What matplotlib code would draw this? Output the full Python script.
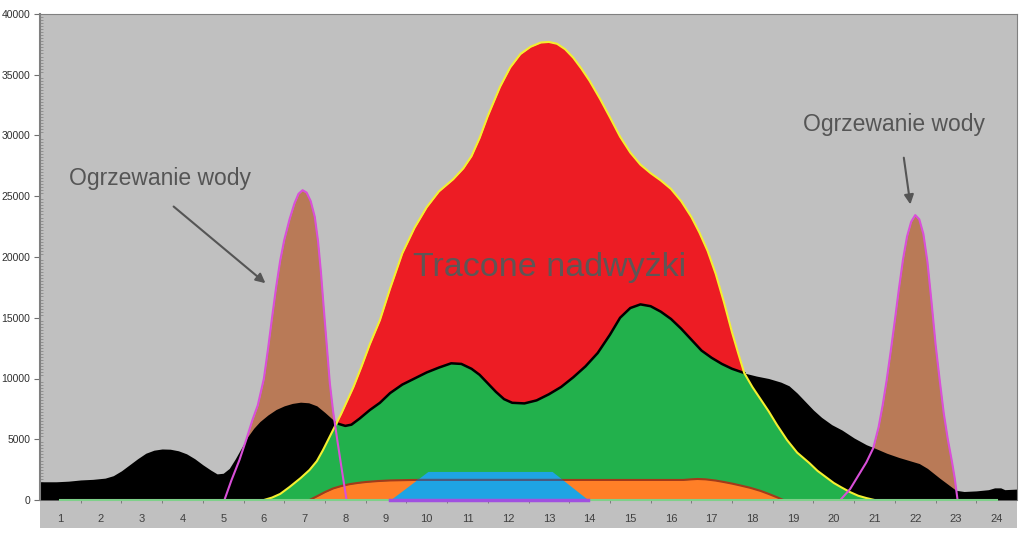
import numpy as np
import matplotlib.pyplot as plt
from matplotlib.patches import Rectangle

plt.rcParams['font.family'] = ['Liberation Sans', 'DejaVu Sans']

# Hours on the category axis
hours = list(range(1, 25))

# Consumption (black area, green top edge)
cons_x = [0.5, 0.9, 1.2, 1.5, 1.8, 2.1, 2.3, 2.5, 2.7, 2.9, 3.1, 3.3, 3.5, 3.7, 3.9, 4.1,
          4.3, 4.5, 4.7, 4.85, 5.0, 5.15, 5.3, 5.45, 5.6, 5.75, 5.9, 6.1, 6.3, 6.5, 6.7,
          6.9, 7.1, 7.3, 7.5, 7.7, 7.85, 8.0, 8.15, 8.35, 8.6, 8.85, 9.1, 9.4, 9.7, 10.0,
          10.3, 10.6, 10.85, 11.1, 11.3, 11.5, 11.7, 11.9, 12.1, 12.4, 12.7, 13.0, 13.3,
          13.6, 13.9, 14.2, 14.5, 14.75, 15.0, 15.25, 15.5, 15.75, 16.0, 16.25, 16.5,
          16.75, 17.0, 17.25, 17.5, 17.8, 18.1, 18.4, 18.7, 18.9, 19.1, 19.3, 19.5, 19.7,
          19.95, 20.2, 20.5, 20.8, 21.0, 21.3, 21.6, 21.9, 22.1, 22.3, 22.45, 22.6, 22.8,
          23.0, 23.2, 23.5, 23.8, 23.95, 24.1, 24.2, 24.5]
cons_y = [1500, 1500, 1550, 1650, 1700, 1800, 2000, 2400, 2900, 3400, 3850, 4100, 4200,
          4180, 4050, 3800, 3400, 2900, 2450, 2150, 2200, 2600, 3400, 4300, 5200, 5900,
          6450, 7000, 7450, 7750, 7950, 8050, 8000, 7750, 7200, 6600, 6250, 6100, 6200,
          6700, 7400, 8000, 8800, 9500, 10000, 10500, 10900, 11250, 11200, 10800, 10300,
          9600, 8900, 8300, 8000, 7950, 8200, 8700, 9300, 10100, 11000, 12100, 13600,
          15000, 15800, 16100, 15950, 15500, 14900, 14100, 13200, 12300, 11700, 11200,
          10800, 10450, 10200, 10000, 9700, 9400, 8800, 8100, 7400, 6800, 6200, 5760, 5100,
          4550, 4280, 3850, 3500, 3200, 3000, 2600, 2200, 1800, 1300, 800, 700, 750, 850,
          1000, 1000, 850, 900]

# Production (yellow line, red area)
prod_x = [6.0, 6.2, 6.4, 6.63, 6.9, 7.12, 7.3, 7.45, 7.6, 7.75, 7.9, 8.05, 8.2, 8.4, 8.6,
          8.85, 9.1, 9.4, 9.7, 10.0, 10.3, 10.65, 10.9, 11.1, 11.3, 11.5, 11.8, 12.05,
          12.3, 12.55, 12.8, 13.0, 13.2, 13.4, 13.6, 13.8, 14.0, 14.26, 14.5, 14.75, 15.0,
          15.25, 15.5, 15.75, 16.0, 16.25, 16.5, 16.7, 16.9, 17.1, 17.3, 17.5, 17.65, 17.8,
          18.0, 18.2, 18.4, 18.6, 18.85, 19.1, 19.4, 19.6, 19.8, 20.0, 20.17, 20.4, 20.6,
          20.8, 21.0]
prod_y = [0, 200, 500, 1070, 1800, 2470, 3200, 4100, 5100, 6100, 7100, 8200, 9300, 11000,
          12800, 14800, 17400, 20300, 22400, 24100, 25400, 26400, 27300, 28300, 29800,
          31600, 34000, 35600, 36700, 37300, 37650, 37700, 37550, 37100, 36400, 35500,
          34500, 33000, 31500, 29900, 28600, 27600, 26900, 26300, 25600, 24600, 23300,
          22000, 20500, 18600, 16300, 13800, 12100, 10450, 9300, 8300, 7300, 6200, 4940,
          3900, 3040, 2400, 1900, 1400, 1070, 650, 350, 160, 0]

# Orange band
orange_x = [7.12, 7.3, 7.5, 7.7, 7.9, 8.1, 8.3, 8.5, 8.8, 9.1, 9.66, 12.0, 16.3, 16.5,
            16.65, 16.85, 17.1, 17.3, 17.5, 17.7, 17.95, 18.2, 18.4, 18.6, 18.76]
orange_y = [0, 300, 650, 950, 1150, 1300, 1400, 1480, 1560, 1610, 1650, 1650, 1650, 1700,
            1730, 1700, 1600, 1480, 1350, 1200, 1000, 750, 500, 230, 0]

# Blue trapezoid
blue_x = [9.1, 10.03, 13.08, 13.97]
blue_y = [0, 2350, 2350, 0]

# Water heating peaks
peak1_x = [5.03, 5.2, 5.4, 5.56, 5.72, 5.85, 6.0, 6.1, 6.2, 6.3, 6.4, 6.5, 6.63, 6.75,
           6.85, 6.95, 7.05, 7.15, 7.25, 7.33, 7.4, 7.47, 7.55, 7.62, 7.7, 7.8, 7.9, 8.03]
peak1_y = [0, 1600, 3300, 4900, 6600, 7800, 10000, 12400, 15000, 17500, 19700, 21400,
           23100, 24400, 25200, 25500, 25300, 24600, 23300, 21300, 18800, 15800, 12500,
           9600, 7300, 5000, 2800, 0]
peak2_x = [20.16, 20.4, 20.6, 20.8, 20.97, 21.1, 21.2, 21.3, 21.4, 21.5, 21.6, 21.7, 21.8,
           21.9, 22.0, 22.1, 22.2, 22.3, 22.4, 22.5, 22.6, 22.7, 22.8, 22.9, 22.97, 23.04]
peak2_y = [0, 900, 2000, 3100, 4280, 6000, 7800, 9900, 12300, 14800, 17400, 19800, 21700,
           22900, 23450, 23100, 21900, 19600, 16300, 12800, 9900, 7160, 5000, 3200, 1800, 0]

fig = plt.figure(figsize=(10.24, 5.35), dpi=100)
ax = fig.add_axes([40 / 1024, 35 / 535, 977 / 1024, 486 / 535])
ax.set_facecolor('#c0c0c0')

# grey strip under the axis for the category labels
fig.patches.append(Rectangle((40 / 1024, 7 / 535), 977 / 1024, 28 / 535,
                             transform=fig.transFigure, facecolor='#c0c0c0',
                             edgecolor='none', zorder=-1))

# brown peaks
ax.fill_between(peak1_x, peak1_y, color='#b97a57', lw=0, zorder=1)
ax.fill_between(peak2_x, peak2_y, color='#b97a57', lw=0, zorder=1)

# consumption (black), production (red), self-use (green)
ax.fill_between(cons_x, cons_y, color='black', lw=0, zorder=2)
red = ax.fill_between(prod_x, prod_y, color='#ed1c24', lw=0, zorder=3)
green = ax.fill_between(cons_x, cons_y, color='#22b14c', lw=0, zorder=4)
green.set_clip_path(red.get_paths()[0], ax.transData)

ax.fill_between(orange_x, orange_y, color='#ff7f27', lw=0, zorder=5)
blue = ax.fill_between(blue_x, blue_y, color='#1ea4e4', lw=0, zorder=6)
ax.plot(orange_x, orange_y, color='#a33a1a', lw=1.5, zorder=7)
inner, = ax.plot(orange_x, orange_y, color='#4a5a80', lw=1.5, zorder=7.5)
inner.set_clip_path(blue.get_paths()[0], ax.transData)

i0 = cons_x.index(7.85)
i1 = cons_x.index(17.8) + 1
ax.plot(cons_x[i0:i1], cons_y[i0:i1], color='black', lw=1.8, zorder=8)
ax.plot(prod_x, prod_y, color='#f4f030', lw=1.5, zorder=9)

ax.plot(peak1_x, peak1_y, color='#d94fd9', lw=1.5, zorder=10)
ax.plot(peak2_x, peak2_y, color='#d94fd9', lw=1.5, zorder=10)

# zero lines
ax.plot(hours, [0] * len(hours), color='#7fd08a', lw=1.5, zorder=11, clip_on=False)
ax.plot([blue_x[0], blue_x[-1]], [0, 0], color='#a050e0', lw=2.5, zorder=12, clip_on=False)

# annotations
txt = dict(color='#555555', fontsize=16.5)
ax.text(1.22, 26500, 'Ogrzewanie wody', va='center', ha='left', **txt)
ax.text(19.25, 30900, 'Ogrzewanie wody', va='center', ha='left', **txt)
arw = dict(arrowstyle='-|>', color='#555555', lw=1.5, mutation_scale=14)
ax.annotate('', xy=(6.09, 17700), xytext=(3.73, 24300), arrowprops=arw, zorder=13)
ax.annotate('', xy=(21.89, 24100), xytext=(21.71, 28400), arrowprops=arw, zorder=13)
ax.text(9.66, 19100, 'Tracone nadwyżki', va='center', ha='left', color='#5e5656',
        fontsize=24.5, zorder=13)

# axes
ax.set_xlim(0.5, 24.5)
ax.set_ylim(0, 40000)
ax.set_xticks(hours)
ax.set_xticks(np.arange(1.5, 24.5, 1), minor=True)
ax.set_yticks(np.arange(0, 40001, 5000))
ax.set_yticks(np.arange(0, 40001, 250), minor=True)
ax.tick_params(axis='x', which='major', length=0, pad=10, labelsize=8, labelcolor='#404040')
ax.tick_params(axis='x', which='minor', length=5, direction='inout', color='#707070')
ax.tick_params(axis='y', which='major', length=4, direction='out', color='#707070',
               labelsize=7.5, labelcolor='#303030', pad=3)
ax.tick_params(axis='y', which='minor', length=2, direction='in', color='#8a8a8a', width=0.6)
for side in ['top', 'right', 'left']:
    ax.spines[side].set_color('#808080')
ax.spines['left'].set_linewidth(1.5)
ax.spines['bottom'].set_visible(False)

fig.savefig('out.png', dpi=100)
